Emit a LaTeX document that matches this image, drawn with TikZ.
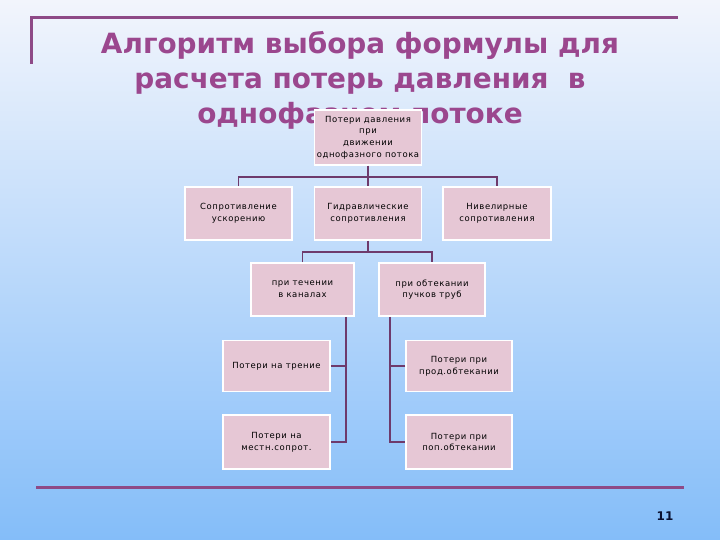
\documentclass[tikz,border=0pt]{standalone}
\usepackage{fontspec}
\setmainfont{DejaVu Sans}
\newfontfamily\boxfont[LetterSpace=7]{DejaVu Sans}
\definecolor{bgtop}{HTML}{F2F5FC}
\definecolor{bgbot}{HTML}{84BDF9}
\definecolor{titlec}{HTML}{9B478E}
\definecolor{rulec}{HTML}{8E4A87}
\definecolor{linkc}{HTML}{6E3A6C}
\definecolor{boxfill}{HTML}{E6C7D5}
\definecolor{numc}{HTML}{0A1030}
\tikzset{
  box/.style={draw=white, line width=1.5bp, fill=boxfill, align=center,
    font=\boxfont\fontsize{8.5}{11.7}\selectfont, text=black, inner sep=0pt},
  link/.style={draw=linkc, line width=1.8bp},
  rulel/.style={draw=rulec, line width=3bp},
}
\begin{document}
\begin{tikzpicture}[x=1bp,y=-1bp]
\shade[top color=bgtop, bottom color=bgbot] (0,0) rectangle (720,540);
\useasboundingbox (0,0) rectangle (720,540);
% rules
\draw[rulel] (31,64) -- (31,18) -- (678,18);
\draw[rulel] (36,487) -- (684,487);
% title
\node[font=\bfseries\fontsize{28}{35}\selectfont, text=titlec, align=center] (title) at (360,80)
  {Алгоритм выбора формулы для\\расчета потерь давления \ в\\однофазном потоке};
\node[font=\bfseries\fontsize{12}{14}\selectfont, text=numc] (num) at (665,516) {11};
% boxes
\node[box, minimum width=107bp, minimum height=55bp] (root) at (368,137.5)
  {Потери давления\\при\\движении\\однофазного потока};
\node[box, minimum width=107bp, minimum height=53bp] (sopr) at (238.5,213.5)
  {Сопротивление\\ускорению};
\node[box, minimum width=107bp, minimum height=53bp] (gidr) at (368,213.5)
  {Гидравлические\\сопротивления};
\node[box, minimum width=108bp, minimum height=53bp] (nivel) at (497,213.5)
  {Нивелирные\\сопротивления};
\node[box, minimum width=103bp, minimum height=53bp] (chan) at (302.5,289.5)
  {при течении\\в каналах};
\node[box, minimum width=106bp, minimum height=53bp] (tube) at (432,289.5)
  {при обтекании\\пучков труб};
\node[box, minimum width=107bp, minimum height=51bp] (fric) at (276.5,366)
  {Потери на трение};
\node[box, minimum width=107bp, minimum height=54bp] (loc) at (276.5,442)
  {Потери на\\местн.сопрот.};
\node[box, minimum width=106bp, minimum height=51bp] (prod) at (459,366)
  {Потери при\\прод.обтекании};
\node[box, minimum width=106bp, minimum height=54bp] (pop) at (459,442)
  {Потери при\\поп.обтекании};
% connectors
\coordinate (j1) at (368,177);
\coordinate (j2) at (368,252);
\coordinate (v1) at (346,442);
\coordinate (v2) at (390,442);
\draw[link] (root.south) -- (gidr.north);
\draw[link] (sopr.north) |- (j1) -| (nivel.north);
\draw[link] (gidr.south) -- (j2);
\draw[link] (chan.north) |- (j2) -| (tube.north);
\draw[link] (chan.south -| v1) -- (v1) -- (loc.east);
\draw[link] (fric.east) -- (fric.east -| v1);
\draw[link] (tube.south -| v2) -- (v2) -- (pop.west);
\draw[link] (prod.west) -- (prod.west -| v2);
\end{tikzpicture}
\end{document}
